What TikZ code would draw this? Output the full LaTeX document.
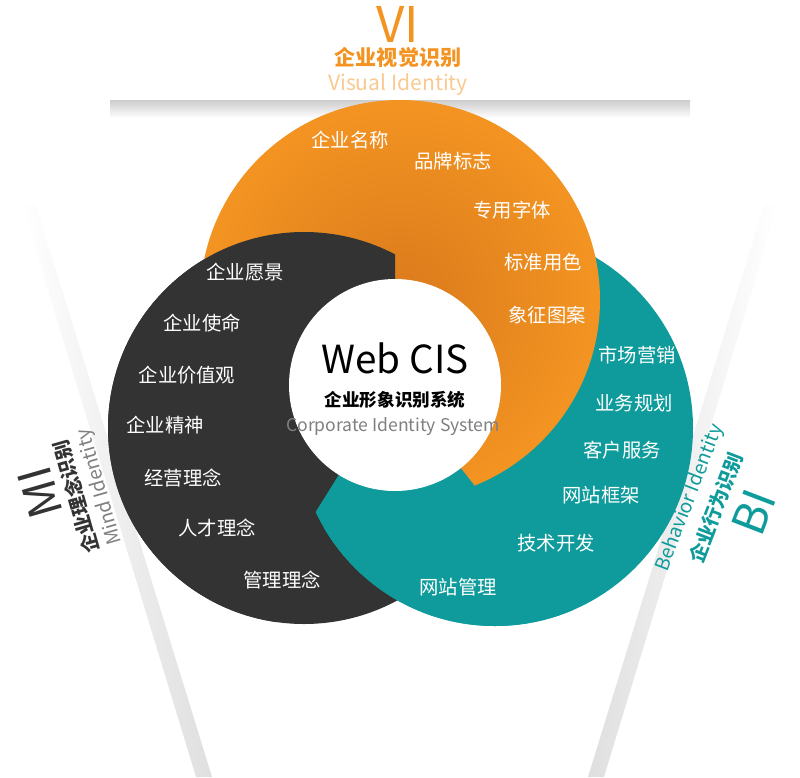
\documentclass[tikz,border=0pt]{standalone}
\usepackage{fontspec}
\setmainfont{Noto Sans CJK SC}
\usetikzlibrary{positioning}
\definecolor{viorange}{HTML}{F39422}
\definecolor{vidark}{HTML}{DA7A1C}
\definecolor{migrey}{HTML}{333333}
\definecolor{biteal}{HTML}{0F9B9B}
\tikzset{
item/.style={text=white,font=\fontsize{11}{13}\selectfont},
side/.style={font=\fontsize{11}{13}\selectfont},
beam/.style={draw=none}
}
\begin{document}
\begin{tikzpicture}[x=0.02cm,y=-0.02cm]
	\useasboundingbox (0,0) rectangle (800,777);
	% beams
	\shade[beam,top color=gray!40,bottom color=white] (110,100) rectangle (690,118);
	\shade[beam,left color=white,right color=gray!25] (22,205) -- (36,205) -- (212,777) -- (196,777) -- cycle;
	\shade[beam,left color=gray!25,right color=white] (764,205) -- (778,205) -- (604,777) -- (588,777) -- cycle;
	% circles
	\coordinate (co) at (400,300);
	\coordinate (cm) at (304,428);
	\coordinate (cb) at (495,428);
	\coordinate (cw) at (395,385);
	\fill[migrey] (cm) circle (196);
	\fill[biteal] (cb) circle (198);
	\shade[inner color=vidark,outer color=viorange] (co) circle (200);
	\begin{scope}
		\clip (cw) -- (395,0) -- (0,0) -- (0,777) -- (200,777) -- cycle;
		\fill[migrey] (cm) circle (196);
	\end{scope}
	\begin{scope}
		\clip (cw) -- (150,777) -- (705,777) -- cycle;
		\fill[biteal] (cb) circle (198);
	\end{scope}
	\fill[white] (cw) circle (106);
	% center
	\node (web) at (395,358) {\fontsize{22}{24}\selectfont Web CIS};
	\node[font=\fontsize{10}{12}\selectfont\bfseries] (cis) at (395,400) {企业形象识别系统};
	\node[text=gray,font=\fontsize{10}{12}\selectfont] (cise) at (393,427) {Corporate Identity System};
	% VI
	\node[text=viorange,font=\fontsize{28}{30}\selectfont] (vi) at (398,24) {VI};
	\node[text=viorange,side,font=\fontsize{12}{14}\selectfont\bfseries] (vic) at (398,57) {企业视觉识别};
	\node[text=viorange!50,side,font=\fontsize{12}{14}\selectfont] (vie) at (398,85) {Visual Identity};
	% MI
	\node[rotate=106,text=migrey,font=\fontsize{26}{28}\selectfont] (mi) at (40,493) {MI};
	\node[rotate=106,text=migrey,font=\fontsize{11}{13}\selectfont\bfseries] (mic) at (76,497) {企业理念识别};
	\node[rotate=106,text=gray,font=\fontsize{11}{13}\selectfont] (mie) at (100,487) {Mind Identity};
	% BI
	\node[rotate=69,text=biteal,font=\fontsize{11}{13}\selectfont] (bie) at (690,498) {Behavior Identity};
	\node[rotate=69,text=biteal,font=\fontsize{11}{13}\selectfont\bfseries] (bic) at (716,508) {企业行为识别};
	\node[rotate=69,text=biteal,font=\fontsize{26}{28}\selectfont] (bi) at (754,512) {BI};
	% orange items
	\node[item] (o1) at (350,140) {企业名称};
	\node[item] (o2) at (453,161) {品牌标志};
	\node[item] (o3) at (512,210) {专用字体};
	\node[item] (o4) at (543,262) {标准用色};
	\node[item] (o5) at (547,315) {象征图案};
	% grey items
	\node[item] (m1) at (245,272) {企业愿景};
	\node[item] (m2) at (202,323) {企业使命};
	\node[item] (m3) at (187,375) {企业价值观};
	\node[item] (m4) at (165,425) {企业精神};
	\node[item] (m5) at (183,478) {经营理念};
	\node[item] (m6) at (217,528) {人才理念};
	\node[item] (m7) at (282,580) {管理理念};
	% teal items
	\node[item] (b1) at (637,355) {市场营销};
	\node[item] (b2) at (634,403) {业务规划};
	\node[item] (b3) at (622,450) {客户服务};
	\node[item] (b4) at (601,495) {网站框架};
	\node[item] (b5) at (556,543) {技术开发};
	\node[item] (b6) at (458,587) {网站管理};
\end{tikzpicture}
\end{document}
